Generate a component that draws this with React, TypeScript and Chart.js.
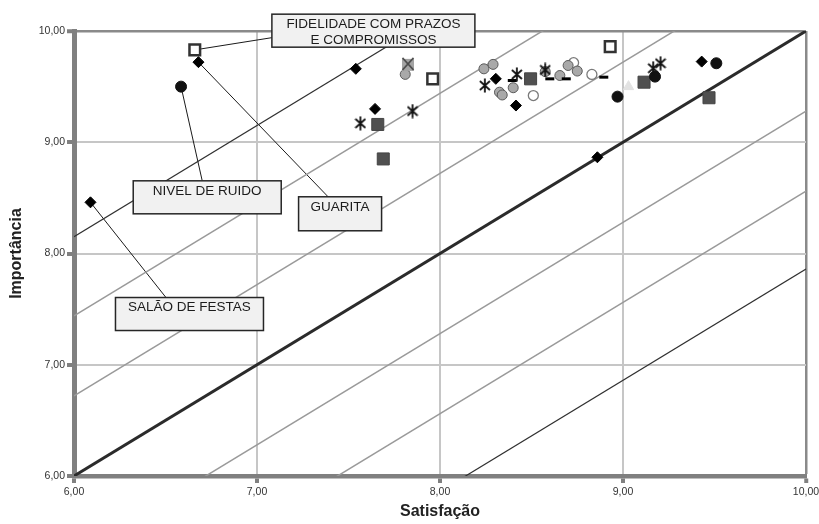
import React, { useEffect, useRef } from 'react';
import { Chart, registerables } from 'chart.js';

Chart.register(...registerables);

// ---------- data ----------
const TICK_VALUES = [6, 7, 8, 9, 10];
const TICK_LABELS = ['6,00', '7,00', '8,00', '9,00', '10,00'];
const X_TITLE = 'Satisfação';
const Y_TITLE = 'Importância';

// reference lines y = x + offset
const DIAG_OFFSETS = [2.15, 1.44, 0.72, 0, -0.72, -1.44, -2.14];

const diamonds = [
  [6.09, 8.46], [6.68, 9.72], [7.54, 9.66], [7.645, 9.3],
  [8.305, 9.57], [8.415, 9.33], [8.86, 8.865], [9.43, 9.725],
];
const blackCircles = [
  [6.585, 9.5], [8.97, 9.41], [9.175, 9.59], [9.51, 9.71],
];
const darkSquares = [
  [7.66, 9.16], [7.69, 8.85], [8.495, 9.57], [9.115, 9.54], [9.47, 9.4],
];
const hollowSquares = [
  [6.66, 9.83], [7.96, 9.57], [8.93, 9.86],
];
const grayCircles = [
  [7.81, 9.61], [8.24, 9.66], [8.29, 9.7], [8.325, 9.45], [8.34, 9.425],
  [8.4, 9.49], [8.575, 9.635], [8.655, 9.6], [8.7, 9.69], [8.75, 9.64],
];
const hollowCircles = [
  [8.51, 9.42], [8.73, 9.715], [8.83, 9.61],
];
const asterisks = [
  [7.565, 9.17], [7.85, 9.28], [8.245, 9.51], [8.42, 9.61],
  [8.575, 9.65], [9.165, 9.665], [9.205, 9.71],
];
const crossSquares = [[7.825, 9.7]];
const dashes = [
  [8.395, 9.555], [8.6, 9.57], [8.69, 9.57], [8.895, 9.585],
];
const triangles = [[9.03, 9.5]];

// annotation boxes: centre in data units, target point in data units
const NOTES = [
  { lines: ['FIDELIDADE COM PRAZOS', 'E COMPROMISSOS'], cx: 7.636, cy: 10.003, target: [6.66, 9.83] },
  { lines: ['NIVEL DE RUIDO'], cx: 6.728, cy: 8.505, target: [6.585, 9.5] },
  { lines: ['GUARITA'], cx: 7.454, cy: 8.357, target: [6.68, 9.72] },
  { lines: ['SALÃO DE FESTAS'], cx: 6.631, cy: 7.456, target: [6.09, 8.46] },
];
// layout of the boxes (pixels)
const NOTE_LAYOUT = [
  { w: 203, h: 33, ax: -101.5, ay: 7 },
  { w: 148, h: 33, ax: -5, ay: -16.5 },
  { w: 83, h: 34, ax: -12, ay: -17 },
  { w: 148, h: 33, ax: -23.5, ay: -16.5 },
];

const FONT = '"Liberation Sans", Arial, Helvetica, sans-serif';

function makeAsterisk(): HTMLCanvasElement {
  const c = document.createElement('canvas');
  c.width = 12;
  c.height = 15;
  const g = c.getContext('2d')!;
  g.strokeStyle = '#111';
  g.lineWidth = 1.8;
  g.beginPath();
  g.moveTo(6, 0.5); g.lineTo(6, 14.5);
  g.moveTo(1, 3); g.lineTo(11, 12);
  g.moveTo(1, 12); g.lineTo(11, 3);
  g.stroke();
  return c;
}

function makeCrossSquare(): HTMLCanvasElement {
  const c = document.createElement('canvas');
  c.width = 14;
  c.height = 15;
  const g = c.getContext('2d')!;
  g.fillStyle = '#a4a4a4';
  g.fillRect(1, 2, 12, 12);
  g.strokeStyle = '#4a4a4a';
  g.lineWidth = 1.8;
  g.beginPath();
  g.moveTo(1.5, 1); g.lineTo(12.5, 13);
  g.moveTo(1.5, 13); g.lineTo(12.5, 1);
  g.stroke();
  return c;
}

const toXY = (a: number[][]) => a.map(([x, y]) => ({ x, y }));

export default function App() {
  const ref = useRef<HTMLCanvasElement>(null);

  useEffect(() => {
    const canvas = ref.current;
    if (!canvas) return;
    const ast = makeAsterisk();
    const xsq = makeCrossSquare();

    const diagSets = DIAG_OFFSETS.map((c) => ({
      data: [{ x: 6, y: 6 + c }, { x: 10, y: 10 + c }],
      showLine: true,
      pointRadius: 0,
      borderColor: c === 0 ? '#2b2b2b' : Math.abs(c) > 2 ? '#303030' : '#9a9a9a',
      borderWidth: c === 0 ? 3 : Math.abs(c) > 2 ? 1.2 : 1.5,
      order: 100,
    }));

    const pts = (
      d: number[][],
      style: any,
      radius: number,
      bg: string,
      border: string,
      bw: number,
      order: number,
    ) => ({
      data: toXY(d),
      pointStyle: style,
      pointRadius: radius,
      pointBackgroundColor: bg,
      pointBorderColor: border,
      pointBorderWidth: bw,
      showLine: false,
      order,
    });

    const datasets: any[] = [
      ...diagSets,
      pts(hollowCircles, 'circle', 5, '#ffffff', '#7a7a7a', 1.3, 9),
      pts(grayCircles, 'circle', 5, '#a9a9a9', '#5a5a5a', 1, 8),
      pts(triangles, 'triangle', 6, '#e2e2e2', '#e2e2e2', 1, 8),
      pts(darkSquares, 'rect', 8.5, '#505050', '#444444', 1, 7),
      pts(hollowSquares, 'rect', 7.5, '#ffffff', '#333333', 2.5, 6),
      pts(diamonds, 'rectRot', 5.5, '#000000', '#000000', 1, 5),
      pts(blackCircles, 'circle', 5.5, '#111111', '#111111', 1, 4),
      pts(crossSquares, xsq, 7, '#a4a4a4', '#4a4a4a', 1, 3),
      pts(dashes, 'line', 4.5, '#000000', '#000000', 3, 2),
      pts(asterisks, ast, 7, '#000000', '#000000', 1, 1),
    ];

    const notesPlugin = {
      id: 'notes',
      beforeDatasetsDraw(chart: any) {
        const { ctx, scales } = chart;
        ctx.save();
        ctx.strokeStyle = '#1a1a1a';
        ctx.lineWidth = 1;
        NOTES.forEach((n, i) => {
          const L = NOTE_LAYOUT[i];
          const cx = scales.x.getPixelForValue(n.cx);
          const cy = scales.y.getPixelForValue(n.cy);
          ctx.beginPath();
          ctx.moveTo(cx + L.ax, cy + L.ay);
          ctx.lineTo(scales.x.getPixelForValue(n.target[0]), scales.y.getPixelForValue(n.target[1]));
          ctx.stroke();
        });
        ctx.restore();
      },
      afterDatasetsDraw(chart: any) {
        const { ctx, scales } = chart;
        ctx.save();
        NOTES.forEach((n, i) => {
          const L = NOTE_LAYOUT[i];
          const cx = scales.x.getPixelForValue(n.cx);
          const cy = scales.y.getPixelForValue(n.cy);
          const left = cx - L.w / 2;
          const top = cy - L.h / 2;
          ctx.fillStyle = '#f1f1f1';
          ctx.fillRect(left, top, L.w, L.h);
          ctx.strokeStyle = '#262626';
          ctx.lineWidth = 1.5;
          ctx.strokeRect(left, top, L.w, L.h);
          ctx.fillStyle = '#1c1c1c';
          ctx.font = `13.5px ${FONT}`;
          ctx.textAlign = 'center';
          ctx.textBaseline = 'middle';
          n.lines.forEach((t, k) => {
            ctx.fillText(t, cx, top + 10 + k * 16);
          });
        });
        ctx.restore();
      },
    };

    const tickLabel = (v: any) => {
      const i = TICK_VALUES.indexOf(Number(v));
      return i >= 0 ? TICK_LABELS[i] : '';
    };

    const gridColor = (c: any) => (c.tick && c.tick.value === 10 ? '#8a8a8a' : '#c6c6c6');
    const gridWidth = (c: any) => (c.tick && c.tick.value === 10 ? 2.5 : 2);

    const chart = new Chart(canvas, {
      type: 'scatter',
      data: { datasets },
      plugins: [notesPlugin],
      options: {
        animation: false,
        responsive: false,
        maintainAspectRatio: false,
        layout: { padding: { top: 31, right: 13, left: 0, bottom: 0 } },
        plugins: { legend: { display: false }, tooltip: { enabled: false } },
        scales: {
          x: {
            type: 'linear',
            min: 6,
            max: 10,
            afterFit: (s: any) => {
              s.height = 48;
              s.paddingLeft = 0;
              s.paddingRight = 0;
            },
            ticks: {
              stepSize: 1,
              maxRotation: 0,
              padding: 3,
              color: '#333',
              font: { family: FONT, size: 10.5 },
              callback: tickLabel,
            },
            grid: {
              color: gridColor,
              lineWidth: gridWidth,
              tickColor: '#808080',
              tickWidth: 4,
              tickLength: 7,
            },
            border: { color: '#808080', width: 4.5 },
            title: {
              display: true,
              text: X_TITLE,
              color: '#222',
              font: { family: FONT, size: 16, weight: 'bold' },
              padding: { top: 0, bottom: 3 },
            },
          },
          y: {
            type: 'linear',
            min: 6,
            max: 10,
            afterFit: (s: any) => {
              s.width = 74;
              s.paddingTop = 0;
              s.paddingBottom = 0;
            },
            ticks: {
              stepSize: 1,
              padding: 2,
              color: '#333',
              font: { family: FONT, size: 10.5 },
              callback: tickLabel,
            },
            grid: {
              color: gridColor,
              lineWidth: gridWidth,
              tickColor: '#808080',
              tickWidth: 4,
              tickLength: 7,
            },
            border: { color: '#808080', width: 5 },
            title: {
              display: true,
              text: Y_TITLE,
              color: '#222',
              font: { family: FONT, size: 16, weight: 'bold' },
              padding: { top: 7, bottom: 0 },
            },
          },
        },
      } as any,
    });

    return () => chart.destroy();
  }, []);

  return (
    <div style={{ position: 'absolute', left: 0, top: 0, width: 819, height: 524, background: '#fff' }}>
      <canvas ref={ref} width={819} height={524} style={{ width: 819, height: 524, display: 'block' }} />
    </div>
  );
}
